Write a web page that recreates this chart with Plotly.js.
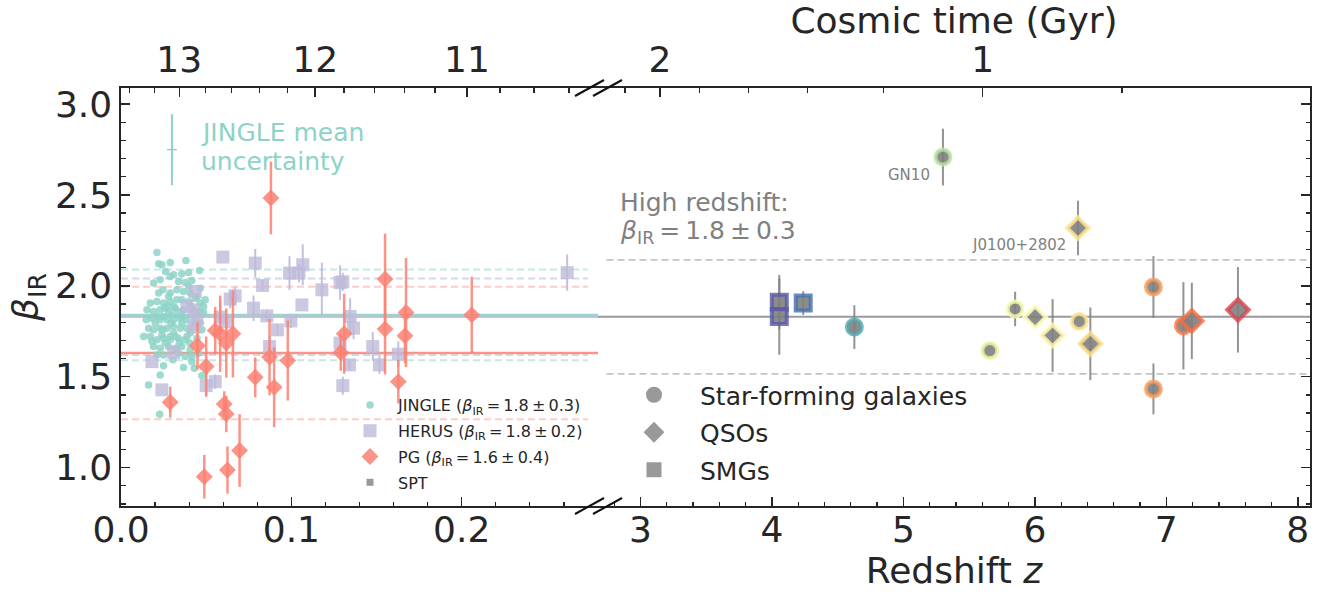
<!DOCTYPE html>
<html><head><meta charset="utf-8">
<script src="https://cdn.plot.ly/plotly-3.0.1.min.js"></script>
<style>html,body{margin:0;padding:0;background:#fff}#chart{width:1325px;height:594px}</style>
</head><body><div id="chart"></div>
<script>
// ---------------- DATA ----------------
const jingleZ = [0.0211,0.0221,0.0240,0.0289,0.0381,0.0397,0.0461,0.0262,0.0289,0.0309,0.0357,0.0191,0.0230,0.0338,0.0377,0.0416,0.0465,0.0246,0.0289,0.0328,0.0367,0.0406,0.0446,0.0494,0.0172,0.0211,0.0250,0.0289,0.0357,0.0485,0.0152,0.0191,0.0230,0.0279,0.0318,0.0367,0.0416,0.0465,0.0182,0.0230,0.0270,0.0309,0.0348,0.0387,0.0436,0.0162,0.0191,0.0230,0.0270,0.0309,0.0348,0.0387,0.0133,0.0172,0.0211,0.0250,0.0289,0.0338,0.0387,0.0446,0.0191,0.0230,0.0279,0.0318,0.0357,0.0406,0.0455,0.0250,0.0211,0.0377,0.0416,0.0250,0.0367,0.0430,0.0230,0.0475,0.0162,0.0227,0.0289,0.0309,0.0250,0.0338,0.0397,0.0436,0.0465,0.0485,0.0201,0.0260,0.0299,0.0328,0.0357,0.0406,0.0240,0.0279,0.0309,0.0221,0.0377,0.0426,0.0260,0.0338,0.0182,0.0465,0.0397,0.0436,0.0318,0.0270,0.0215,0.0363,0.0293,0.0246,0.0148,0.0475,0.0403,0.0342,0.0305,0.0416];
const jingleBeta = [2.183,2.121,2.116,2.128,2.139,2.073,2.084,2.079,2.051,2.061,2.066,2.015,2.033,2.024,2.018,2.029,1.987,1.978,1.960,1.978,1.969,1.960,1.941,1.923,1.905,1.914,1.905,1.914,1.923,1.886,1.868,1.859,1.868,1.859,1.877,1.868,1.877,1.859,1.822,1.813,1.813,1.813,1.822,1.813,1.822,1.767,1.758,1.767,1.767,1.776,1.767,1.767,1.721,1.721,1.703,1.712,1.721,1.712,1.721,1.712,1.666,1.657,1.666,1.657,1.666,1.648,1.629,1.620,1.620,1.611,1.611,1.560,1.551,1.547,1.510,1.505,1.455,1.294,1.703,1.740,1.831,1.859,1.914,1.932,1.795,1.850,1.795,1.877,1.840,1.923,1.795,1.740,1.730,1.941,1.886,1.960,1.703,1.776,1.685,1.629,1.694,1.905,1.996,1.859,1.721,1.886,1.831,1.831,1.795,1.758,1.813,1.758,1.685,1.685,1.593,1.583];

const herusZ = [0.0598,0.0788,0.0831,0.0989,0.1067,0.1045,0.1179,0.1286,0.1302,0.1062,0.0778,0.0856,0.0918,0.0997,0.0641,0.0670,0.0582,0.0622,0.0436,0.0387,0.0426,0.0446,0.0430,0.0309,0.0182,0.0240,0.0500,0.0553,0.0872,0.1286,0.1345,0.1365,0.1341,0.1302,0.1478,0.1517,0.1628,0.2619];
const herusBeta = [2.158,2.125,2.002,2.070,2.116,2.070,1.978,2.018,2.022,1.895,1.877,1.835,1.758,1.807,1.927,1.945,1.828,1.804,1.969,1.886,1.868,1.822,1.773,1.633,1.583,1.428,1.451,1.473,1.666,1.685,1.831,1.767,1.565,1.451,1.666,1.565,1.624,2.073];
const herusErr = [0,0.078,0.03,0.093,0.112,0.05,0.15,0.095,0.05,0,0.07,0.03,0.03,0.04,0.05,0.05,0.08,0.04,0,0,0,0,0,0,0,0,0.06,0.04,0.06,0.05,0.1,0.06,0.03,0.05,0.08,0.05,0.07,0.1];

const pgZ = [0.0880,0.0289,0.0449,0.0500,0.0489,0.0553,0.0582,0.0618,0.0657,0.0606,0.0618,0.0625,0.0696,0.0788,0.0872,0.0899,0.0979,0.1310,0.1290,0.1550,0.1550,0.1673,0.1667,0.1628,0.2059];
const pgBeta = [2.483,1.360,1.670,1.556,0.950,1.754,1.736,1.685,1.736,1.350,1.295,0.987,1.094,1.497,1.608,1.442,1.589,1.736,1.633,2.037,1.762,1.853,1.725,1.473,1.840];
const pgErr = [0.2,0.085,0.13,0.165,0.12,0.13,0.21,0.19,0.24,0.07,0.1,0.13,0.2,0.11,0.21,0.22,0.22,0.22,0.1,0.25,0.25,0.3,0.15,0.12,0.21];

const jingleMeanErrZ = [0.0299];
const jingleMeanErrBeta = [2.749];
const jingleMeanErr = [0.195];

const sampleMean  = [1.84, 1.83, 1.63];    // JINGLE, HERUS, PG
const sampleUpper = [2.09, 2.04, 1.995];
const sampleLower = [1.59, 1.62, 1.266];
const highzMean = [1.83], highzUpper = [2.143], highzLower = [1.516];

const sfgZ    = [5.301, 4.627, 5.657, 5.850, 6.338, 6.902, 6.902, 7.130];
const sfgBeta = [2.708, 1.773, 1.644, 1.873, 1.804, 1.993, 1.433, 1.780];
const sfgErr  = [0.156, 0.12, 0, 0.095, 0, 0.17, 0.14, 0.24];
const qsoZ    = [6.002, 6.135, 6.328, 6.422, 7.194, 7.545];
const qsoBeta = [1.828, 1.727, 2.318, 1.681, 1.807, 1.868];
const qsoErr  = [0, 0.2, 0.15, 0.2, 0.21, 0.235];
const smgZ    = [4.056, 4.056, 4.238];
const smgBeta = [1.910, 1.831, 1.905];
const smgErr  = [0.15, 0.21, 0.065];

// cosmic time (top axis) tick labels and their redshift positions
const ageLabelsLow = ['13','12','11'];
const ageZLow = [0.0342, 0.1140, 0.2031];
const ageMinorZLow = [0.0052,0.0195,0.0494,0.0647,0.0811,0.0975,0.1309,0.1486,0.1662,0.1843,0.2225,0.2424,0.2630];
const ageLabelsHigh = ['2','1'];
const ageZHigh = [3.149, 5.603];
const ageMinorZHigh = [2.883, 3.447, 3.820, 4.270, 4.849, 6.663];

// ---------------- STYLE ----------------
const FONT = 'DejaVu Sans';
const INK = '#262626';
const M = {l:121, r:15, t:88, b:88};
const W = 1325 - M.l - M.r, H = 594 - M.t - M.b;
const d1 = (598 - M.l) / W;
const xLeftRange = [0, 0.28];
const xRightRange = [2.677, 8.093];
const yRange = [0.789, 3.088];
const px = x => (x - M.l) / W;
const py = y => (594 - M.b - y) / H;
const spectral = [[0,'rgba(94,79,162,0.8)'],[0.1,'rgba(50,136,189,0.8)'],[0.2,'rgba(102,194,165,0.8)'],[0.3,'rgba(171,221,164,0.8)'],[0.4,'rgba(230,245,152,0.8)'],[0.5,'rgba(255,255,191,0.85)'],[0.6,'rgba(254,224,139,0.8)'],[0.7,'rgba(253,174,97,0.8)'],[0.8,'rgba(244,109,67,0.8)'],[0.9,'rgba(213,62,79,0.8)'],[1,'rgba(158,1,66,0.8)']];
const sampleSolid = ['rgba(141,211,199,0.9)','rgba(190,186,218,0.9)','rgba(251,128,114,0.85)'];
const sampleDash  = ['rgba(141,211,199,0.5)','rgba(190,186,218,0.6)','rgba(251,128,114,0.4)'];
const beta = '<i>β</i><sub>IR</sub>';
const T = '\u2009';
const betaEq = (m, s) => beta + T + '=' + T + m + T + '±' + T + s;

const traces = [];
traces.push({type:'scatter', mode:'markers', x:jingleZ, y:jingleBeta, xaxis:'x', yaxis:'y',
  name:'JINGLE (' + betaEq('1.8','0.3') + ')', legend:'legend', legendgroup:'a',
  marker:{color:'#8dd3c7', size:7.5, opacity:0.85}});
traces.push({type:'scatter', mode:'markers', x:herusZ, y:herusBeta, xaxis:'x', yaxis:'y',
  name:'HERUS (' + betaEq('1.8','0.2') + ')', legend:'legend', legendgroup:'b',
  error_y:{type:'data', array:herusErr, color:'rgba(190,186,218,0.9)', thickness:2, width:0},
  marker:{color:'#bebada', symbol:'square', size:13, opacity:0.8}});
traces.push({type:'scatter', mode:'markers', x:pgZ, y:pgBeta, xaxis:'x', yaxis:'y',
  name:'PG (' + betaEq('1.6','0.4') + ')', legend:'legend', legendgroup:'c',
  error_y:{type:'data', array:pgErr, color:'rgba(251,128,114,0.85)', thickness:2.5, width:0},
  marker:{color:'#fb8072', symbol:'diamond', size:13, opacity:0.85}});
traces.push({type:'scatter', mode:'markers', x:[null], y:[null], xaxis:'x', yaxis:'y',
  name:'SPT', legend:'legend', legendgroup:'d',
  marker:{color:'#999999', symbol:'square', size:7}});
traces.push({type:'scatter', mode:'markers', x:jingleMeanErrZ, y:jingleMeanErrBeta, xaxis:'x', yaxis:'y', showlegend:false,
  error_y:{type:'data', array:jingleMeanErr, color:'#8dd3c7', thickness:2, width:0},
  marker:{color:'#8dd3c7', symbol:'line-ew', size:7, line:{color:'#8dd3c7', width:1.5}}});

function hiTrace(zs, bs, es, sym, size){
  return {type:'scatter', mode:'markers', x:zs, y:bs, xaxis:'x2', yaxis:'y', showlegend:false,
    error_y:{type:'data', array:es, color:'rgba(128,128,128,0.85)', thickness:2, width:0},
    marker:{symbol:sym, size:size, color:'rgba(128,128,128,0.9)',
      line:{width:4, color:zs, colorscale:spectral, cmin:4, cmax:8}}};
}
traces.push(hiTrace(smgZ, smgBeta, smgErr, 'square', 15));
traces.push(hiTrace(sfgZ, sfgBeta, sfgErr, 'circle', 15));
traces.push(hiTrace(qsoZ, qsoBeta, qsoErr, 'diamond', 16.5));

const legendTypes = ['Star-forming galaxies','QSOs','SMGs'];
const legendSyms = ['circle','diamond','square'];
const legendSizes = [16, 16, 15];
legendTypes.forEach((n,i)=>traces.push({type:'scatter', mode:'markers', x:[null], y:[null], xaxis:'x2', yaxis:'y',
  name:n, legend:'legend2', legendgroup:'g'+i, marker:{symbol:legendSyms[i], size:legendSizes[i], color:'#999999'}}));

// ---------------- SHAPES ----------------
const shapes = [];
for (let i=0;i<3;i++){
  [sampleUpper[i], sampleLower[i]].forEach(v=>shapes.push({type:'line', layer:'below', xref:'x', yref:'y',
    x0:0, x1:0.274, y0:v, y1:v, line:{color:sampleDash[i], width:2, dash:'7px,4px'}}));
}
[2,1,0].forEach(i=>shapes.push({type:'line', layer:'below', xref:'x domain', yref:'y',
  x0:0, x1:1, y0:sampleMean[i], y1:sampleMean[i], line:{color:sampleSolid[i], width:2.5}}));
shapes.push({type:'line', layer:'below', xref:'x2 domain', yref:'y', x0:0, x1:1, y0:highzMean[0], y1:highzMean[0], line:{color:'#9a9a9a', width:1.8}});
[highzUpper[0], highzLower[0]].forEach(v=>shapes.push({type:'line', layer:'below', xref:'x2 domain', yref:'y',
  x0:0.012, x1:1, y0:v, y1:v, line:{color:'#c4c4c4', width:1.8, dash:'7px,4px'}}));
// axis break marks
[88, 506].forEach(ys=>[589.5, 607.5].forEach(cx=>shapes.push({type:'line', xref:'paper', yref:'paper',
  x0:px(cx-14.5), y0:py(ys+8), x1:px(cx+14.5), y1:py(ys-8), line:{color:'#111', width:2}})));

// ---------------- ANNOTATIONS ----------------
const annotations = [
  {xref:'x', yref:'y', x:0.0458, y:2.842, text:'JINGLE mean', xanchor:'left', yanchor:'middle', showarrow:false, font:{size:25, color:'#8dd3c7'}},
  {xref:'x', yref:'y', x:0.0458, y:2.682, text:'uncertainty', xanchor:'left', yanchor:'middle', showarrow:false, font:{size:25, color:'#8dd3c7'}},
  {xref:'x2', yref:'y', x:2.829, y:2.457, text:'High redshift:', xanchor:'left', yanchor:'middle', showarrow:false, font:{size:25, color:'#808080'}},
  {xref:'x2', yref:'y', x:2.829, y:2.297, text:betaEq('1.8','0.3'), xanchor:'left', yanchor:'middle', showarrow:false, font:{size:25, color:'#808080'}},
  {xref:'x2', yref:'y', x:5.220, y:2.611, text:'GN10', xanchor:'right', yanchor:'middle', showarrow:false, font:{size:15, color:'#808080'}},
  {xref:'x2', yref:'y', x:6.249, y:2.226, text:'J0100+2802', xanchor:'right', yanchor:'middle', showarrow:false, font:{size:15, color:'#808080'}}
];

const axBase = {showline:true, linecolor:INK, linewidth:1.6, ticks:'inside', ticklen:9, tickwidth:1.5, tickcolor:INK,
  showgrid:false, zeroline:false, tickfont:{size:36, color:INK, family:FONT}};
const minorX = (dt)=>({dtick:dt, ticks:'inside', ticklen:4.5, tickwidth:1.2, tickcolor:INK});

const layout = {
  width:1325, height:594, margin:M, paper_bgcolor:'#fff', plot_bgcolor:'#fff',
  font:{family:FONT, color:INK},
  xaxis:Object.assign({}, axBase, {domain:[0,d1], range:xLeftRange, anchor:'y', tick0:0, dtick:0.1, tickformat:'.1f', minor:minorX(0.02), ticklabelstandoff:-9}),
  xaxis2:Object.assign({}, axBase, {domain:[d1,1], range:xRightRange, anchor:'y', tick0:0, dtick:1, minor:minorX(0.2), ticklabelstandoff:-9,
    title:{text:'Redshift <i>z</i>', font:{size:36, color:INK}, standoff:6}}),
  xaxis3:Object.assign({}, axBase, {overlaying:'x', side:'top', anchor:'y', range:xLeftRange, tickmode:'array', tickvals:ageZLow, ticktext:ageLabelsLow,
    minor:{tickmode:'array', tickvals:ageMinorZLow, ticks:'inside', ticklen:4.5, tickwidth:1.2, tickcolor:INK}}),
  xaxis4:Object.assign({}, axBase, {overlaying:'x2', side:'top', anchor:'y', range:xRightRange, tickmode:'array', tickvals:ageZHigh, ticktext:ageLabelsHigh,
    minor:{tickmode:'array', tickvals:ageMinorZHigh, ticks:'inside', ticklen:4.5, tickwidth:1.2, tickcolor:INK},
    title:{text:'Cosmic time (Gyr)', font:{size:36, color:INK}}}),
  yaxis:Object.assign({}, axBase, {domain:[0,1], range:yRange, anchor:'x', side:'left', tick0:0, dtick:0.5, tickformat:'.1f',
    minor:{dtick:0.1, ticks:'inside', ticklen:4.5, tickwidth:1.2, tickcolor:INK},
    title:{text:beta, font:{size:36, color:INK}}}),
  yaxis2:Object.assign({}, axBase, {overlaying:'y', range:yRange, anchor:'x2', side:'right', tick0:0, dtick:0.5, showticklabels:false,
    minor:{dtick:0.1, ticks:'inside', ticklen:4.5, tickwidth:1.2, tickcolor:INK}}),
  legend:{x:px(342), y:py(388), xanchor:'left', yanchor:'top', bgcolor:'rgba(0,0,0,0)', borderwidth:0,
    font:{size:16, color:INK, family:FONT}, itemwidth:46, traceorder:'grouped', tracegroupgap:2},
  legend2:{x:px(608), y:py(372), xanchor:'left', yanchor:'top', bgcolor:'rgba(0,0,0,0)', borderwidth:0,
    font:{size:25, color:INK, family:FONT}, itemwidth:82, traceorder:'grouped', tracegroupgap:2},
  shapes:shapes, annotations:annotations, showlegend:true
};
// dummy traces so the overlay axes exist
traces.push({type:'scatter', mode:'markers', x:[null], y:[null], xaxis:'x3', yaxis:'y', showlegend:false, hoverinfo:'skip'});
traces.push({type:'scatter', mode:'markers', x:[null], y:[null], xaxis:'x4', yaxis:'y2', showlegend:false, hoverinfo:'skip'});

Plotly.newPlot('chart', traces, layout, {displayModeBar:false, staticPlot:true});
</script></body></html>
